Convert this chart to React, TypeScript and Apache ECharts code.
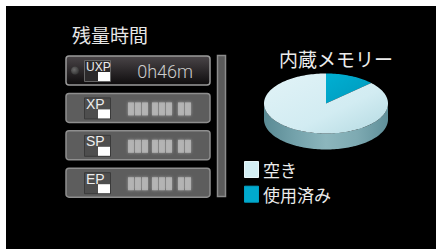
import React, { useEffect, useRef } from "react";
import * as echarts from "echarts";

const panelTitle = "残量時間";
const modes = ["UXP", "XP", "SP", "EP"];
const times = ["0h46m", "", "", ""];
const pieTitle = "内蔵メモリー";
const memCats = ["使用済み", "空き"];
const memValues = [13, 87];
const legendOrder = ["空き", "使用済み"];

const JP = "'Noto Sans CJK JP', 'Noto Sans', sans-serif";

const topColors: Record<string, any> = {
  "空き": {
    type: "linear", x: 0, y: 0, x2: 1, y2: 1,
    colorStops: [
      { offset: 0, color: "#e2f3f7" },
      { offset: 0.6, color: "#d2ecf2" },
      { offset: 1, color: "#b3d9e1" },
    ],
  },
  "使用済み": {
    type: "linear", x: 0, y: 0, x2: 1, y2: 1,
    colorStops: [
      { offset: 0, color: "#00b0d3" },
      { offset: 1, color: "#0098bb" },
    ],
  },
};
const legendColors: Record<string, string> = { "空き": "#d3eef4", "使用済み": "#00a9cd" };

export default function App() {
  const ref = useRef<HTMLDivElement>(null);
  useEffect(() => {
    if (!ref.current) return;
    const chart = echarts.init(ref.current, null, { renderer: "svg" });
    const cx = 326, cy = 103.5, rx = 62, ry = 30, depth = 16;
    const total = memValues.reduce((a, b) => a + b, 0);
    const pt = (t: number, dz = 0) => [cx + rx * Math.sin(t), cy - ry * Math.cos(t) + dz];
    const arc = (a: number, b: number, dz = 0) => {
      const n = Math.max(2, Math.ceil(Math.abs(b - a) / 0.03));
      const out: number[][] = [];
      for (let k = 0; k <= n; k++) out.push(pt(a + ((b - a) * k) / n, dz));
      return out;
    };

    const renderItem = (params: any, api: any) => {
      const i = params.dataIndex;
      const before = memValues.slice(0, i).reduce((a, b) => a + b, 0);
      const start = (before / total) * Math.PI * 2;
      const end = start + (api.value(0) / total) * Math.PI * 2;
      const name = memCats[i];
      const children: any[] = [];
      const a = Math.max(start, Math.PI / 2);
      const b = Math.min(end, (Math.PI * 3) / 2);
      if (b > a) {
        const pts = arc(a, b).concat(arc(b, a, depth));
        children.push({
          type: "polygon",
          shape: { points: pts },
          style: {
            fill: {
              type: "linear", x: 0, y: 0, x2: 1, y2: 0,
              colorStops: [
                { offset: 0, color: "#5a8a94" },
                { offset: 0.25, color: "#74a2ab" },
                { offset: 0.5, color: "#8cb6bd" },
                { offset: 0.75, color: "#7eaab2" },
                { offset: 1, color: "#5f8f99" },
              ],
            },
          },
        });
      }
      const topPts = [[cx, cy]].concat(arc(start, end));
      children.push({
        type: "polygon",
        shape: { points: topPts },
        style: { fill: topColors[name] },
      });
      return { type: "group", children };
    };

    const graphic: any[] = [];
    graphic.push({ type: "rect", z: -10, shape: { x: 6, y: 6, width: 430, height: 243 }, style: { fill: "#000" } });
    graphic.push({
      type: "text",
      style: { text: panelTitle, x: 72, y: 34, fill: "#e6e6e6", fontSize: 19, fontFamily: JP, textVerticalAlign: "middle" },
    });
    const rowTop = 56, pitch = 37.4, rowH = 29;
    modes.forEach((m, i) => {
      const top = rowTop + i * pitch;
      const sel = i === 0;
      graphic.push({
        type: "rect",
        shape: { x: 66, y: top, width: 144, height: rowH, r: 3 },
        style: {
          fill: sel
            ? { type: "linear", x: 0, y: 0, x2: 0, y2: 1, colorStops: [{ offset: 0, color: "#4a4548" }, { offset: 1, color: "#0e0c0d" }] }
            : "#5d5d5d",
          stroke: sel ? "#9a9a9a" : "#8e8e8e",
          lineWidth: 1.5,
        },
      });
      if (sel) {
        graphic.push({
          type: "circle",
          shape: { cx: 75, cy: top + 14.5, r: 4 },
          style: { fill: { type: "radial", x: 0.4, y: 0.4, r: 0.6, colorStops: [{ offset: 0, color: "#6a6a6a" }, { offset: 1, color: "#383838" }] } },
        });
      }
      graphic.push({
        type: "rect",
        shape: { x: 84.5, y: top + 4.5, width: 26, height: 21 },
        style: { fill: sel ? "#2c2a2b" : "#4e4e4e", stroke: sel ? "#666" : "#3a3a3a", lineWidth: 1 },
      });
      graphic.push({
        type: "rect",
        shape: { x: 98, y: top + 16, width: 12, height: 9 },
        style: { fill: "#ffffff" },
      });
      graphic.push({
        type: "text",
        style: {
          text: m, x: 86, y: top + 10.5, fill: "#ececec",
          fontSize: m.length > 2 ? 12 : 14, fontFamily: "'Liberation Sans', Arial, sans-serif",
          textVerticalAlign: "middle", lineHeight: 12,
        },
      });
      if (times[i]) {
        graphic.push({
          type: "text",
          style: {
            text: times[i], x: 193, y: top + 15, fill: "#cccccc", fontSize: 18,
            fontFamily: "Roboto, sans-serif", fontWeight: 300, textAlign: "right", textVerticalAlign: "middle",
          },
        });
      } else {
        const starts = [128, 135, 142, 152, 159, 166, 178, 185];
        starts.forEach((x) => {
          graphic.push({
            type: "rect",
            shape: { x, y: top + 9, width: 6, height: 13 },
            style: { fill: "#b8b8b8", opacity: 0.85, shadowBlur: 3, shadowColor: "#aaa" },
          });
        });
      }
    });
    graphic.push({
      type: "rect",
      shape: { x: 217.5, y: 55.5, width: 8, height: 141 },
      style: { fill: "#5a5a5a", stroke: "#8c8c8c", lineWidth: 1.5 },
    });
    graphic.push({
      type: "text",
      style: { text: pieTitle, x: 336, y: 58, fill: "#ececec", fontSize: 19, fontFamily: JP, textAlign: "center", textVerticalAlign: "middle" },
    });
    legendOrder.forEach((n, i) => {
      const y = 161 + i * 24.7;
      graphic.push({
        type: "rect",
        shape: { x: 244.5, y: y + 0.5, width: 14, height: 16 },
        style: { fill: legendColors[n], stroke: n === "空き" ? "#e8f6f9" : "#00a0c4", lineWidth: 1 },
      });
      graphic.push({
        type: "text",
        style: { text: n, x: 263, y: y + 8.5, fill: "#ececec", fontSize: 17, lineHeight: 18, fontFamily: JP, textVerticalAlign: "middle" },
      });
    });

    chart.setOption({
      animation: false,
      backgroundColor: "#ffffff",
      graphic,
      series: [
        {
          type: "custom",
          coordinateSystem: "none",
          silent: true,
          z: 5,
          renderItem,
          data: memValues.map((v, i) => ({ name: memCats[i], value: [v] })),
        },
      ],
    });
    return () => chart.dispose();
  }, []);
  return <div ref={ref} style={{ position: "fixed", left: 0, top: 0, width: 436, height: 249 }} />;
}
